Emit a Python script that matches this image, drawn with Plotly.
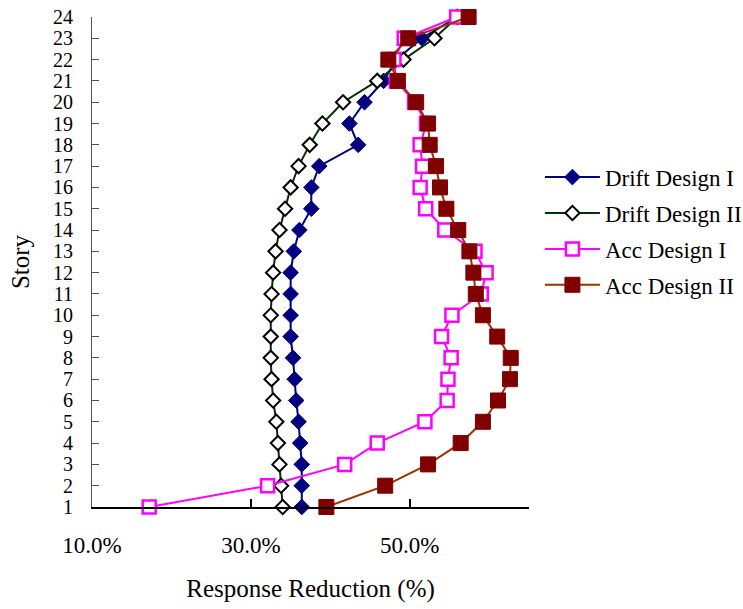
import plotly.graph_objects as go

stories = list(range(1, 25))

drift_design_1 = [36.4, 36.4, 36.4, 36.2, 36.0, 35.7, 35.5, 35.3, 35.0, 35.0, 35.0, 35.0,
                  35.4, 36.1, 37.6, 37.6, 38.6, 43.5, 42.4, 44.3, 46.7, 48.3, 51.5, 56.0]
drift_design_2 = [34.0, 33.8, 33.6, 33.4, 33.2, 32.8, 32.6, 32.5, 32.5, 32.5, 32.6, 32.8,
                  33.1, 33.6, 34.3, 35.0, 36.0, 37.4, 39.0, 41.6, 45.9, 49.2, 53.1, 56.0]
acc_design_1 = [17.2, 32.1, 41.8, 45.9, 51.9, 54.7, 54.8, 55.2, 54.0, 55.3, 59.0, 59.6,
                58.2, 54.4, 52.0, 51.3, 51.6, 51.3, 52.1, 50.6, 48.3, 48.0, 49.3, 55.9]
acc_design_2 = [39.5, 46.9, 52.3, 56.4, 59.2, 61.1, 62.6, 62.7, 61.0, 59.2, 58.3, 58.0,
                57.5, 56.1, 54.6, 53.8, 53.3, 52.5, 52.3, 50.8, 48.5, 47.3, 49.8, 57.4]

x_tick_vals = [10, 30, 50]
x_tick_text = ["10.0%", "30.0%", "50.0%"]

FONT = "Liberation Serif"

fig = go.Figure()

fig.add_trace(go.Scatter(
    x=drift_design_1, y=stories, mode="lines+markers", name="Drift Design I",
    legendgroup="g1",
    line=dict(color="#000080", width=2),
    marker=dict(symbol="diamond", size=12, color="#000080", line=dict(color="#000080", width=1)),
    cliponaxis=False))
fig.add_trace(go.Scatter(
    x=drift_design_2, y=stories, mode="lines+markers", name="Drift Design II",
    legendgroup="g2",
    line=dict(color="#003300", width=2),
    marker=dict(symbol="diamond", size=11, color="white", line=dict(color="black", width=2)),
    cliponaxis=False))
fig.add_trace(go.Scatter(
    x=acc_design_1, y=stories, mode="lines+markers", name="Acc Design I",
    legendgroup="g3",
    line=dict(color="#FF00FF", width=2),
    marker=dict(symbol="square", size=13, color="white", line=dict(color="#FF00FF", width=2.5)),
    cliponaxis=False))
fig.add_trace(go.Scatter(
    x=acc_design_2, y=stories, mode="lines+markers", name="Acc Design II",
    legendgroup="g4",
    line=dict(color="#993300", width=2),
    marker=dict(symbol="square", size=15, color="#800000", line=dict(color="#800000", width=1)),
    cliponaxis=False))

fig.update_layout(
    width=743, height=609,
    margin=dict(l=92, r=214, t=17, b=102, autoexpand=False),
    paper_bgcolor="white", plot_bgcolor="white",
    font=dict(family=FONT, size=23, color="black"),
    showlegend=True,
    legend=dict(x=1.025, y=0.563, xanchor="left", yanchor="middle",
                font=dict(family=FONT, size=23, color="black"),
                itemwidth=55, bgcolor="rgba(0,0,0,0)", tracegroupgap=3),
)

fig.update_xaxes(
    range=[10, 65], tickvals=x_tick_vals, ticktext=x_tick_text,
    showgrid=False, zeroline=False, automargin=False,
    showline=True, linecolor="black", linewidth=2,
    ticks="inside", ticklen=8, tickwidth=2, tickcolor="black",
    ticklabelstandoff=16,
    tickfont=dict(family=FONT, size=23),
    title=dict(text="Response Reduction (%)", font=dict(family=FONT, size=25), standoff=23),
)
fig.update_yaxes(
    range=[1, 24], tickmode="linear", tick0=1, dtick=1,
    showgrid=False, zeroline=False, automargin=False,
    showline=True, linecolor="#555555", linewidth=1,
    ticks="inside", ticklen=7, tickwidth=1, tickcolor="#555555",
    ticklabelstandoff=14,
    tickfont=dict(family=FONT, size=20),
    title=dict(text="Story", font=dict(family=FONT, size=25), standoff=16),
)

fig.write_html("out.html")
